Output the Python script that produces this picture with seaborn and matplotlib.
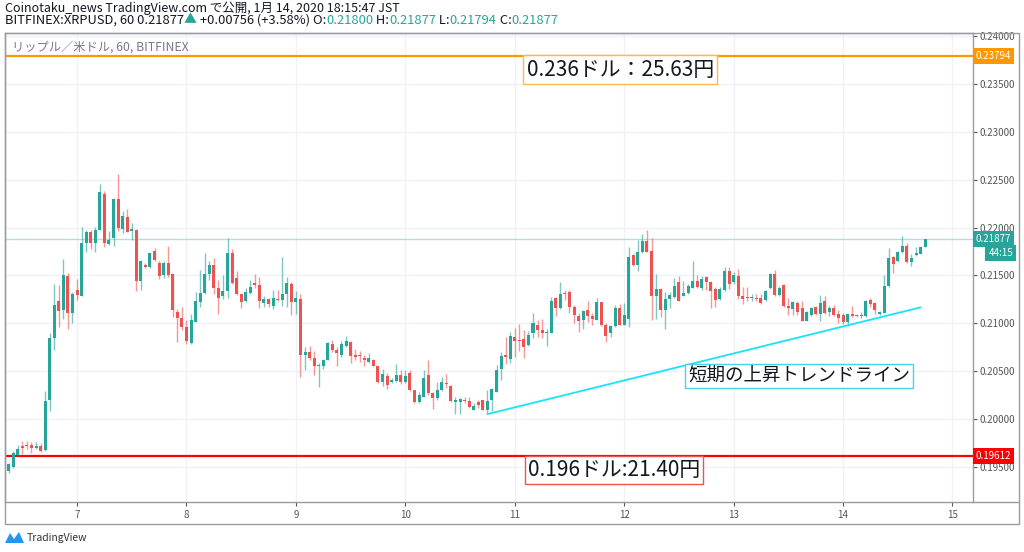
import numpy as np
import pandas as pd
import matplotlib
matplotlib.use('Agg')
import matplotlib.pyplot as plt
import seaborn as sns
from matplotlib.patches import Rectangle, Polygon
from matplotlib.lines import Line2D
from matplotlib.ticker import FormatStrFormatter

# hourly XRPUSD candles, Jan 6 09:00 -> Jan 14 18:00
opens = [
    0.1946, 0.1950, 0.1962, 0.1972, 0.1973, 0.1973, 0.1970, 0.1972, 0.1968, 0.2020,
    0.2085, 0.2123, 0.2114, 0.2149, 0.2111, 0.2135, 0.2129, 0.2184, 0.2195, 0.2184,
    0.2197, 0.2235, 0.2183, 0.2189, 0.2230, 0.2199, 0.2211, 0.2196, 0.2198, 0.2144,
    0.2161, 0.2159, 0.2176, 0.2163, 0.2150, 0.2163, 0.2152, 0.2112, 0.2106, 0.2096,
    0.2080, 0.2101, 0.2122, 0.2132, 0.2152, 0.2161, 0.2137, 0.2129, 0.2134, 0.2173,
    0.2147, 0.2131, 0.2123, 0.2132, 0.2142, 0.2140, 0.2121, 0.2125, 0.2118, 0.2125,
    0.2124, 0.2131, 0.2141, 0.2122, 0.2125, 0.2067, 0.2070, 0.2064, 0.2055, 0.2055,
    0.2062, 0.2078, 0.2072, 0.2067, 0.2076, 0.2081, 0.2067, 0.2067, 0.2064, 0.2060,
    0.2062, 0.2055, 0.2039, 0.2045, 0.2039, 0.2040, 0.2046, 0.2039, 0.2048, 0.2030,
    0.2018, 0.2023, 0.2046, 0.2027, 0.2022, 0.2030, 0.2038, 0.2035, 0.2018, 0.2018,
    0.2020, 0.2019, 0.2010, 0.2018, 0.2020, 0.2010, 0.2020, 0.2028, 0.2052, 0.2067,
    0.2063, 0.2086, 0.2083, 0.2084, 0.2077, 0.2090, 0.2098, 0.2093, 0.2090, 0.2090,
    0.2126, 0.2116, 0.2132, 0.2133, 0.2117, 0.2108, 0.2103, 0.2114, 0.2108, 0.2103,
    0.2122, 0.2098, 0.2090, 0.2097, 0.2116, 0.2098, 0.2105, 0.2171, 0.2161, 0.2175,
    0.2186, 0.2176, 0.2129, 0.2136, 0.2114, 0.2125, 0.2128, 0.2143, 0.2129, 0.2132,
    0.2137, 0.2144, 0.2137, 0.2148, 0.2143, 0.2136, 0.2125, 0.2135, 0.2155, 0.2143,
    0.2149, 0.2129, 0.2128, 0.2127, 0.2127, 0.2126, 0.2124, 0.2137, 0.2152, 0.2130,
    0.2140, 0.2118, 0.2115, 0.2121, 0.2116, 0.2102, 0.2109, 0.2117, 0.2110, 0.2123,
    0.2112, 0.2116, 0.2110, 0.2109, 0.2101, 0.2110, 0.2109, 0.2108, 0.2108, 0.2124,
    0.2121, 0.2110, 0.2111, 0.2139, 0.2169, 0.2165, 0.2175, 0.2181, 0.2164, 0.2171,
    0.2172, 0.2180,
]
highs = [
    0.1954, 0.1967, 0.1973, 0.1977, 0.1977, 0.1976, 0.1976, 0.1975, 0.2029, 0.2090,
    0.2141, 0.2140, 0.2167, 0.2153, 0.2133, 0.2146, 0.2201, 0.2197, 0.2198, 0.2201,
    0.2246, 0.2238, 0.2196, 0.2230, 0.2256, 0.2217, 0.2219, 0.2205, 0.2199, 0.2166,
    0.2163, 0.2174, 0.2179, 0.2165, 0.2165, 0.2181, 0.2152, 0.2115, 0.2117, 0.2103,
    0.2110, 0.2133, 0.2156, 0.2174, 0.2165, 0.2168, 0.2145, 0.2150, 0.2189, 0.2178,
    0.2155, 0.2131, 0.2137, 0.2145, 0.2152, 0.2148, 0.2129, 0.2126, 0.2135, 0.2135,
    0.2169, 0.2148, 0.2143, 0.2134, 0.2131, 0.2075, 0.2076, 0.2071, 0.2059, 0.2063,
    0.2081, 0.2083, 0.2075, 0.2082, 0.2087, 0.2082, 0.2073, 0.2071, 0.2067, 0.2069,
    0.2063, 0.2055, 0.2052, 0.2048, 0.2043, 0.2058, 0.2051, 0.2051, 0.2051, 0.2030,
    0.2028, 0.2051, 0.2062, 0.2028, 0.2039, 0.2044, 0.2047, 0.2036, 0.2023, 0.2022,
    0.2023, 0.2023, 0.2017, 0.2020, 0.2020, 0.2030, 0.2032, 0.2056, 0.2070, 0.2086,
    0.2091, 0.2095, 0.2099, 0.2093, 0.2092, 0.2111, 0.2103, 0.2105, 0.2094, 0.2128,
    0.2128, 0.2143, 0.2135, 0.2135, 0.2119, 0.2111, 0.2114, 0.2123, 0.2111, 0.2127,
    0.2122, 0.2100, 0.2098, 0.2119, 0.2120, 0.2121, 0.2180, 0.2172, 0.2187, 0.2193,
    0.2198, 0.2189, 0.2152, 0.2137, 0.2133, 0.2133, 0.2147, 0.2149, 0.2144, 0.2141,
    0.2165, 0.2151, 0.2149, 0.2149, 0.2144, 0.2138, 0.2138, 0.2159, 0.2159, 0.2154,
    0.2157, 0.2138, 0.2138, 0.2131, 0.2131, 0.2131, 0.2135, 0.2153, 0.2156, 0.2139,
    0.2141, 0.2126, 0.2123, 0.2123, 0.2123, 0.2113, 0.2117, 0.2118, 0.2130, 0.2129,
    0.2118, 0.2119, 0.2114, 0.2111, 0.2110, 0.2118, 0.2110, 0.2112, 0.2124, 0.2127,
    0.2122, 0.2113, 0.2151, 0.2179, 0.2170, 0.2176, 0.2191, 0.2184, 0.2172, 0.2180,
    0.2181, 0.21877,
]
lows = [
    0.1944, 0.1949, 0.1961, 0.1964, 0.1969, 0.1965, 0.1969, 0.1966, 0.1967, 0.2008,
    0.2072, 0.2096, 0.2105, 0.2094, 0.2100, 0.2124, 0.2129, 0.2175, 0.2178, 0.2175,
    0.2197, 0.2180, 0.2182, 0.2181, 0.2196, 0.2194, 0.2195, 0.2187, 0.2134, 0.2135,
    0.2158, 0.2158, 0.2165, 0.2146, 0.2147, 0.2148, 0.2107, 0.2081, 0.2093, 0.2078,
    0.2078, 0.2101, 0.2117, 0.2131, 0.2145, 0.2131, 0.2110, 0.2125, 0.2127, 0.2141,
    0.2130, 0.2116, 0.2122, 0.2131, 0.2137, 0.2116, 0.2117, 0.2117, 0.2115, 0.2123,
    0.2118, 0.2117, 0.2109, 0.2110, 0.2044, 0.2051, 0.2062, 0.2046, 0.2034, 0.2052,
    0.2062, 0.2070, 0.2055, 0.2065, 0.2075, 0.2059, 0.2062, 0.2060, 0.2055, 0.2059,
    0.2055, 0.2038, 0.2035, 0.2031, 0.2038, 0.2039, 0.2037, 0.2038, 0.2029, 0.2017,
    0.2017, 0.2023, 0.2025, 0.2011, 0.2020, 0.2029, 0.2032, 0.2018, 0.2005, 0.2005,
    0.2017, 0.2012, 0.2009, 0.2012, 0.2009, 0.2006, 0.2008, 0.2028, 0.2041, 0.2058,
    0.2059, 0.2065, 0.2071, 0.2064, 0.2076, 0.2085, 0.2086, 0.2085, 0.2076, 0.2090,
    0.2108, 0.2115, 0.2124, 0.2111, 0.2100, 0.2091, 0.2094, 0.2101, 0.2098, 0.2103,
    0.2097, 0.2081, 0.2086, 0.2096, 0.2098, 0.2098, 0.2096, 0.2160, 0.2155, 0.2174,
    0.2175, 0.2103, 0.2105, 0.2107, 0.2094, 0.2116, 0.2126, 0.2123, 0.2129, 0.2131,
    0.2137, 0.2137, 0.2135, 0.2135, 0.2116, 0.2117, 0.2124, 0.2134, 0.2136, 0.2141,
    0.2125, 0.2120, 0.2123, 0.2123, 0.2123, 0.2120, 0.2123, 0.2136, 0.2129, 0.2129,
    0.2117, 0.2109, 0.2109, 0.2109, 0.2102, 0.2102, 0.2108, 0.2109, 0.2102, 0.2110,
    0.2108, 0.2108, 0.2100, 0.2099, 0.2097, 0.2107, 0.2107, 0.2106, 0.2107, 0.2117,
    0.2110, 0.2109, 0.2111, 0.2138, 0.2153, 0.2164, 0.2174, 0.2163, 0.2160, 0.2170,
    0.2172, 0.21794,
]
closes = [
    0.1953, 0.1965, 0.1969, 0.1970, 0.1972, 0.1970, 0.1972, 0.1967, 0.2019, 0.2085,
    0.2119, 0.2113, 0.2151, 0.2111, 0.2131, 0.2130, 0.2184, 0.2195, 0.2184, 0.2197,
    0.2237, 0.2184, 0.2187, 0.2230, 0.2200, 0.2212, 0.2195, 0.2199, 0.2144, 0.2165,
    0.2159, 0.2173, 0.2166, 0.2149, 0.2163, 0.2150, 0.2114, 0.2106, 0.2096, 0.2082,
    0.2104, 0.2123, 0.2132, 0.2152, 0.2161, 0.2137, 0.2127, 0.2134, 0.2173, 0.2142,
    0.2131, 0.2122, 0.2133, 0.2138, 0.2140, 0.2123, 0.2125, 0.2120, 0.2126, 0.2124,
    0.2131, 0.2142, 0.2122, 0.2126, 0.2067, 0.2070, 0.2064, 0.2055, 0.2057, 0.2062,
    0.2079, 0.2072, 0.2069, 0.2078, 0.2082, 0.2066, 0.2065, 0.2066, 0.2062, 0.2064,
    0.2055, 0.2039, 0.2047, 0.2036, 0.2041, 0.2046, 0.2039, 0.2045, 0.2030, 0.2018,
    0.2025, 0.2043, 0.2027, 0.2022, 0.2030, 0.2039, 0.2037, 0.2019, 0.2020, 0.2021,
    0.2019, 0.2013, 0.2014, 0.2015, 0.2010, 0.2019, 0.2031, 0.2051, 0.2066, 0.2065,
    0.2087, 0.2082, 0.2082, 0.2075, 0.2088, 0.2100, 0.2093, 0.2090, 0.2091, 0.2123,
    0.2116, 0.2131, 0.2131, 0.2117, 0.2109, 0.2102, 0.2113, 0.2108, 0.2105, 0.2122,
    0.2098, 0.2087, 0.2097, 0.2116, 0.2098, 0.2109, 0.2169, 0.2161, 0.2175, 0.2186,
    0.2175, 0.2129, 0.2136, 0.2114, 0.2125, 0.2130, 0.2139, 0.2123, 0.2132, 0.2139,
    0.2144, 0.2138, 0.2146, 0.2143, 0.2134, 0.2124, 0.2136, 0.2155, 0.2141, 0.2151,
    0.2129, 0.2125, 0.2127, 0.2128, 0.2125, 0.2121, 0.2134, 0.2152, 0.2130, 0.2137,
    0.2118, 0.2116, 0.2122, 0.2112, 0.2102, 0.2112, 0.2116, 0.2110, 0.2121, 0.2111,
    0.2116, 0.2109, 0.2106, 0.2101, 0.2110, 0.2108, 0.2108, 0.2109, 0.2123, 0.2120,
    0.2114, 0.2112, 0.2139, 0.2168, 0.2162, 0.2175, 0.2181, 0.2164, 0.2168, 0.2173,
    0.2180, 0.21877,
]

day_labels = ['7', '8', '9', '10', '11', '12', '13', '14', '15']
first_midnight = 15          # candle index of Jan 7 00:00
price_ticks = [0.195, 0.200, 0.205, 0.210, 0.215, 0.220, 0.225, 0.230, 0.235, 0.240]
resistance = 0.23794
support = 0.19612
last_price = 0.21877
trend_hours = [105, 200]
trend_prices = [0.20052, 0.21167]

UP = '#26a69a'
DOWN = '#ef5350'

sns.set_theme(style='white')
plt.rcParams['font.family'] = ['Noto Sans CJK JP', 'DejaVu Sans']

W, H = 1024, 552
fig = plt.figure(figsize=(W / 100, H / 100), dpi=100)
fig.patch.set_facecolor('white')


def fx(px):
    return px / W


def fy(py):
    return 1 - py / H


ax = fig.add_axes([fx(5), fy(502), fx(968), 469 / H])

candles = pd.DataFrame({'open': opens, 'high': highs, 'low': lows, 'close': closes})
candles['hour'] = np.arange(len(candles))
candles['rising'] = candles['close'] >= candles['open']
colors = np.where(candles['rising'], UP, DOWN)

# horizontal levels
ax.axhline(last_price, color='#b2dfdb', lw=1, zorder=1)
ax.axhline(resistance, color='#ff9800', lw=1.6, zorder=2)
ax.axhline(support, color='#ff0000', lw=1.6, zorder=2)

# candles
ax.vlines(candles['hour'], candles['low'], candles['high'], colors=colors, lw=1, alpha=0.6, zorder=3)
body_bottom = candles[['open', 'close']].min(axis=1)
body_height = np.maximum((candles['close'] - candles['open']).abs(), 0.00009)
ax.bar(candles['hour'], body_height, bottom=body_bottom, width=0.66, color=colors, lw=0, zorder=4)

# trend line
sns.lineplot(x=trend_hours, y=trend_prices, ax=ax, color='#18e4f5', lw=1.3, zorder=5)

ax.set_xlim(-0.8, 211.5)
ax.set_ylim(0.19134, 0.24033)
ax.set_xticks([first_midnight + 24 * k for k in range(len(day_labels))])
ax.set_xticklabels(day_labels)
ax.set_yticks(price_ticks)
ax.yaxis.set_major_formatter(FormatStrFormatter('%.5f'))
ax.yaxis.tick_right()
ax.grid(True, color='#eef1f6', lw=1)
ax.set_axisbelow(True)
ax.tick_params(axis='y', labelsize=7, colors='#555555', length=3, width=0.8, pad=2, direction='out')
ax.tick_params(axis='x', labelsize=7, colors='#555555', length=3, width=0.8, pad=3, direction='out')
ax.tick_params(axis='y', which='both', right=True, left=False)
ax.tick_params(axis='x', which='both', bottom=True)
for s in ax.spines.values():
    s.set_color('#9a9ca3')
    s.set_linewidth(1)

# outer frame of the price / time scales
fig.add_artist(Rectangle((fx(5), fy(524)), fx(1014), 491 / H, transform=fig.transFigure,
                         fill=False, ec='#9a9ca3', lw=1))
fig.add_artist(Line2D([fx(973), fx(1019)], [fy(502), fy(502)], color='#9a9ca3', lw=1))

# price labels on the scale
ytr = ax.get_yaxis_transform()
ax.text(1.003, resistance, '0.23794', transform=ytr, ha='left', va='center', fontsize=7,
        color='white', bbox=dict(boxstyle='square,pad=0.3', fc='#ff9800', ec='none'))
ax.text(1.003, last_price, '0.21877', transform=ytr, ha='left', va='center', fontsize=7,
        color='white', bbox=dict(boxstyle='square,pad=0.3', fc=UP, ec='none'))
ax.annotate('44:15', xy=(1.0, last_price), xycoords=ytr, xytext=(11, -10), textcoords='offset points',
            ha='left', va='center', fontsize=7, color='white',
            bbox=dict(boxstyle='square,pad=0.3', fc=UP, ec='none'))
ax.text(1.003, support, '0.19612', transform=ytr, ha='left', va='center', fontsize=7,
        color='white', bbox=dict(boxstyle='square,pad=0.3', fc='#ff0000', ec='none'))

# annotation boxes
ax.text(113.6, 0.23651, '0.236ドル：25.63円', fontsize=15, color='#131722', ha='left', va='center',
        bbox=dict(boxstyle='square,pad=0.15', fc='white', ec='#ffb74d', lw=1), zorder=6)
ax.text(149.0, 0.20450, '短期の上昇トレンドライン', fontsize=13.3, color='#131722', ha='left', va='center',
        bbox=dict(boxstyle='square,pad=0.18', fc='white', ec='#4dd0e1', lw=1), zorder=6)
ax.text(113.9, 0.19467, '0.196ドル:21.40円', fontsize=15, color='#131722', ha='left', va='center',
        bbox=dict(boxstyle='square,pad=0.15', fc='white', ec='#ef5350', lw=1), zorder=6)

# header
fig.text(fx(5), fy(8), 'Coinotaku_news TradingView.com で公開, 1月 14, 2020 18:15:47 JST',
         fontsize=9.0, color='#131722', va='center', ha='left')
renderer = fig.canvas.get_renderer()
pieces = [('BITFINEX:XRPUSD, 60 0.21877', '#131722'), ('▲', UP), (' +0.00756 (+3.58%) O:', '#131722'),
          ('0.21800', UP), (' H:', '#131722'), ('0.21877', UP), (' L:', '#131722'),
          ('0.21794', UP), (' C:', '#131722'), ('0.21877', UP)]
x = fx(5)
for s, c in pieces:
    t = fig.text(x, fy(20), s, fontsize=9.3, color=c, va='center', ha='left')
    x = fig.transFigure.inverted().transform(t.get_window_extent(renderer=renderer))[1][0]

fig.text(fx(12), fy(47), 'リップル／米ドル, 60, BITFINEX', fontsize=8.8, color='#787b86', va='center', ha='left')

# footer logo
logo = [(5, 543), (10, 533), (14, 539), (19, 532), (24, 543)]
fig.add_artist(Polygon([(fx(px), fy(py)) for px, py in logo], closed=True, transform=fig.transFigure,
                       fc='#2196f3', ec='none'))
fig.text(fx(27), fy(538), 'TradingView', fontsize=7.5, color='#333333', va='center', ha='left')

fig.savefig('out.png', dpi=100)
